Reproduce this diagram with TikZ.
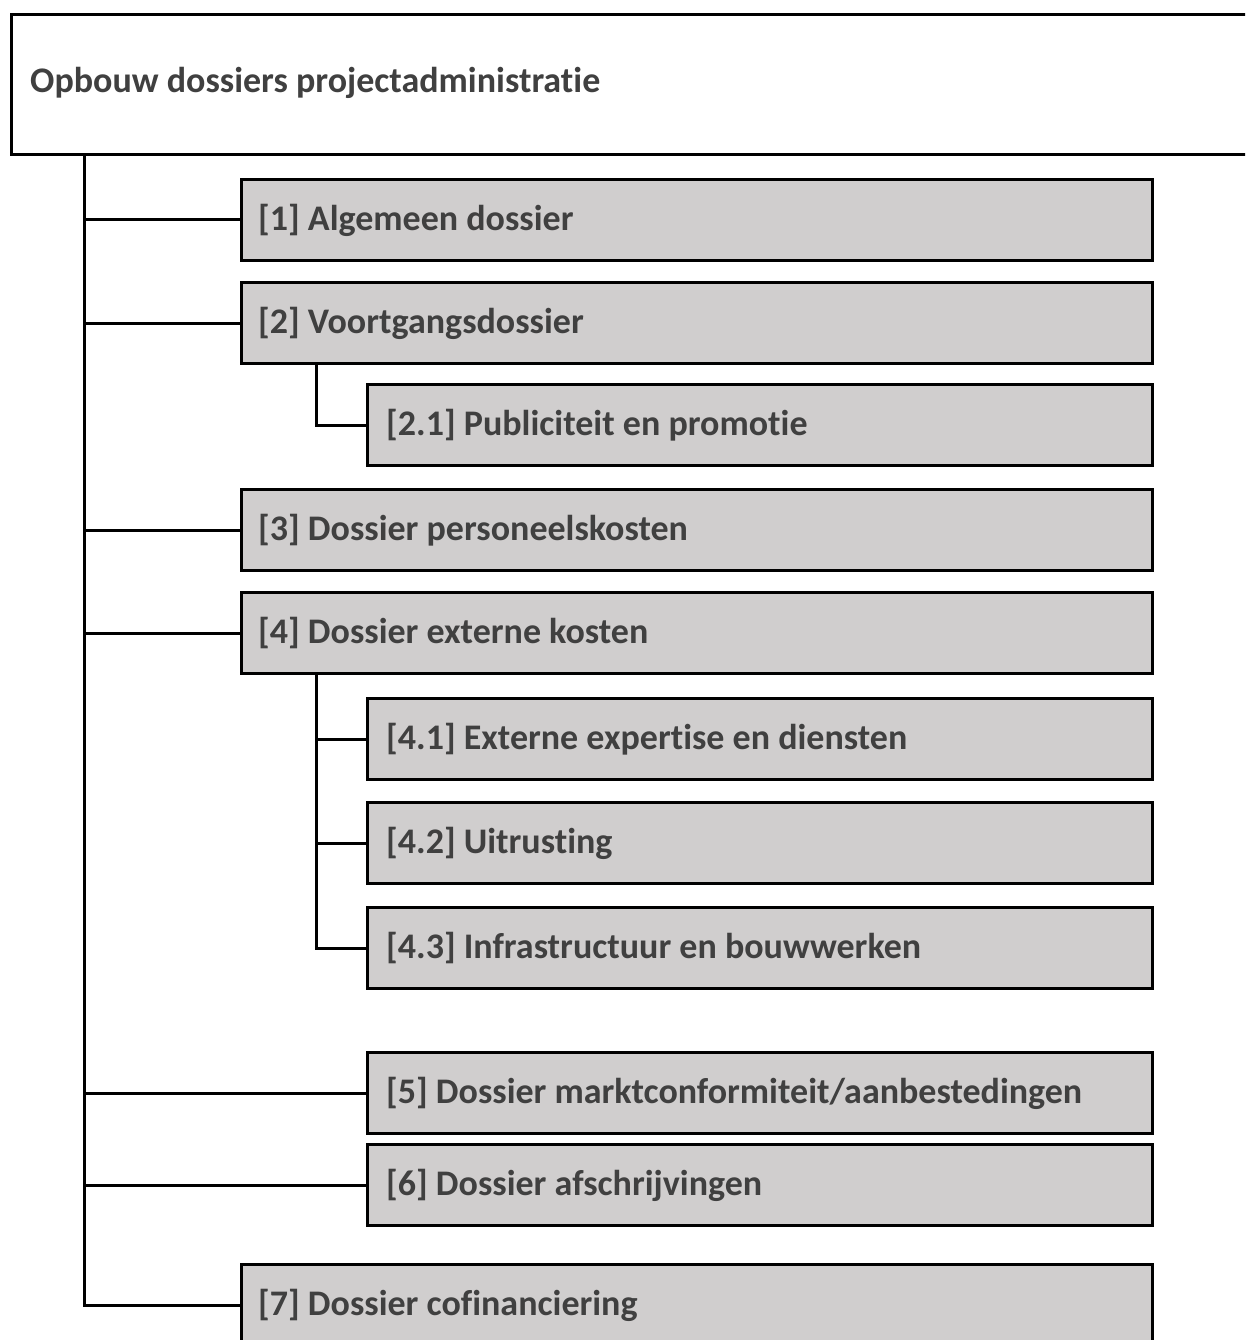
\documentclass[tikz,border=0pt]{standalone}
\usepackage{fontspec}
\setmainfont{Carlito}[Ligatures={NoCommon}]
\definecolor{boxfill}{HTML}{D0CECE}
\definecolor{txt}{HTML}{404040}
\begin{document}
\begin{tikzpicture}[x=1pt,y=-1pt,
  lw/.style={line width=3pt},
  topbox/.style={draw=black,lw,fill=white,rectangle,anchor=north west,inner sep=0pt},
  gbox/.style={draw=black,lw,fill=boxfill,rectangle,anchor=north west,minimum height=81pt,inner sep=0pt},
  wide/.style={minimum width=911pt},
  narrow/.style={minimum width=785pt},
  lbl/.style={anchor=west,inner sep=0pt,text=txt,font=\fontsize{36}{41}\selectfont\bfseries}]
\clip (0,0) rectangle (1245,1340);
\fill[white] (0,0) rectangle (1245,1340);
% top box
\node[topbox,minimum width=1260pt,minimum height=140pt] (top) at (10,13) {};
\node[lbl] (title) at (30,83) {Opbouw dossiers projectadministratie};
\coordinate (trunk) at (84,0);
\coordinate (sub2) at (316,0);
\coordinate (sub4) at (316,0);
% boxes
\node[gbox,wide] (n1) at (240,178) {};
\node[gbox,wide] (n2) at (240,281) {};
\node[gbox,narrow] (n21) at (366,383) {};
\node[gbox,wide] (n3) at (240,488) {};
\node[gbox,wide] (n4) at (240,591) {};
\node[gbox,narrow] (n41) at (366,697) {};
\node[gbox,narrow] (n42) at (366,801) {};
\node[gbox,narrow] (n43) at (366,906) {};
\node[gbox,narrow] (n5) at (366,1051) {};
\node[gbox,narrow] (n6) at (366,1143) {};
\node[gbox,wide] (n7) at (240,1263) {};
% labels
\node[lbl] (t1) at ([xshift=18pt]n1.west) {[1] Algemeen dossier};
\node[lbl] (t2) at ([xshift=18pt]n2.west) {[2] Voortgangsdossier};
\node[lbl] (t21) at ([xshift=20pt]n21.west) {[2.1] Publiciteit en promotie};
\node[lbl] (t3) at ([xshift=18pt]n3.west) {[3] Dossier personeelskosten};
\node[lbl] (t4) at ([xshift=18pt]n4.west) {[4] Dossier externe kosten};
\node[lbl] (t41) at ([xshift=20pt]n41.west) {[4.1] Externe expertise en diensten};
\node[lbl] (t42) at ([xshift=20pt]n42.west) {[4.2] Uitrusting};
\node[lbl] (t43) at ([xshift=20pt]n43.west) {[4.3] Infrastructuur en bouwwerken};
\node[lbl] (t5) at ([xshift=20pt]n5.west) {[5] Dossier marktconformiteit/aanbestedingen};
\node[lbl] (t6) at ([xshift=20pt]n6.west) {[6] Dossier afschrijvingen};
\node[lbl] (t7) at ([xshift=18pt]n7.west) {[7] Dossier cofinanciering};
% connectors
\draw[lw] (trunk |- top.south) |- (n7.west);
\foreach \n in {n1,n2,n3,n4,n5,n6}{\draw[lw] (trunk |- \n.west) -- (\n.west);}
\draw[lw] (sub2 |- n2.south) |- (n21.west);
\draw[lw] (sub4 |- n4.south) |- (n43.west);
\draw[lw] (sub4 |- n41.west) -- (n41.west);
\draw[lw] (sub4 |- n42.west) -- (n42.west);
\end{tikzpicture}
\end{document}
